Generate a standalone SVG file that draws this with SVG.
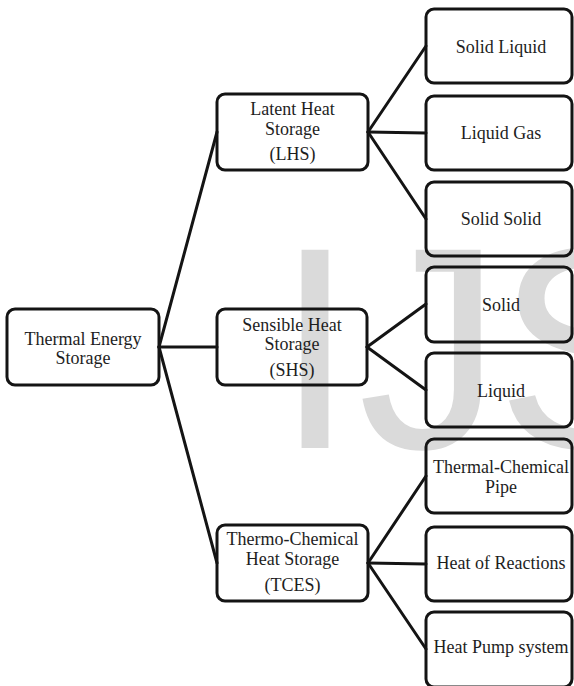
<svg xmlns="http://www.w3.org/2000/svg" width="574" height="686" viewBox="0 0 574 686">
  <style>
    .box { fill: none; stroke: #141414; stroke-width: 3; }
    .t { font-family: "Liberation Serif", "Times New Roman", serif; font-size: 18px; fill: #1e1e1e; text-anchor: middle; }
    .edge { stroke: #141414; stroke-width: 3; fill: none; stroke-linecap: round; }
    .wm { font-family: "Liberation Sans", Arial, sans-serif; font-size: 288px; fill: #dadada; }
  </style>
  <rect width="574" height="686" fill="#ffffff"/>
  <text class="wm" y="448"><tspan x="275">I</tspan><tspan x="358">J</tspan><tspan x="496">S</tspan></text>

  <g id="connectors">
    <line class="edge" x1="159" y1="347" x2="217" y2="132"/>
    <line class="edge" x1="159" y1="347" x2="217" y2="347"/>
    <line class="edge" x1="159" y1="347" x2="217" y2="563"/>
    <line class="edge" x1="368" y1="132" x2="426" y2="46"/>
    <line class="edge" x1="368" y1="132" x2="426" y2="133"/>
    <line class="edge" x1="368" y1="132" x2="426" y2="219"/>
    <line class="edge" x1="367" y1="347" x2="426" y2="304"/>
    <line class="edge" x1="367" y1="347" x2="426" y2="390"/>
    <line class="edge" x1="368" y1="563" x2="426" y2="476"/>
    <line class="edge" x1="368" y1="563" x2="426" y2="564"/>
    <line class="edge" x1="368" y1="563" x2="426" y2="649"/>
  </g>

  <g id="tes">
    <rect class="box" x="7" y="309" width="152" height="76" rx="8"/>
    <text class="t" x="83" y="345">Thermal Energy</text>
    <text class="t" x="83" y="364">Storage</text>
  </g>

  <g id="lhs">
    <rect class="box" x="217" y="94" width="151" height="76" rx="8"/>
    <text class="t" x="292.5" y="115">Latent Heat</text>
    <text class="t" x="292.5" y="135">Storage</text>
    <text class="t" x="292.5" y="160">(LHS)</text>
  </g>

  <g id="shs">
    <rect class="box" x="217" y="309" width="150" height="76" rx="8"/>
    <text class="t" x="292" y="331">Sensible Heat</text>
    <text class="t" x="292" y="350">Storage</text>
    <text class="t" x="292" y="376">(SHS)</text>
  </g>

  <g id="tces">
    <rect class="box" x="217" y="525" width="151" height="76" rx="8"/>
    <text class="t" x="292.5" y="545">Thermo-Chemical</text>
    <text class="t" x="292.5" y="565">Heat Storage</text>
    <text class="t" x="292.5" y="591">(TCES)</text>
  </g>

  <g id="solid-liquid">
    <rect class="box" x="426" y="9" width="146" height="74" rx="8"/>
    <text class="t" x="501" y="53">Solid Liquid</text>
  </g>
  <g id="liquid-gas">
    <rect class="box" x="426" y="96" width="146" height="74" rx="8"/>
    <text class="t" x="501" y="139">Liquid Gas</text>
  </g>
  <g id="solid-solid">
    <rect class="box" x="426" y="182" width="146" height="74" rx="8"/>
    <text class="t" x="501" y="225">Solid Solid</text>
  </g>
  <g id="solid">
    <rect class="box" x="426" y="267" width="146" height="75" rx="8"/>
    <text class="t" x="501" y="311">Solid</text>
  </g>
  <g id="liquid">
    <rect class="box" x="426" y="353" width="146" height="74" rx="8"/>
    <text class="t" x="501" y="397">Liquid</text>
  </g>
  <g id="thermal-chemical-pipe">
    <rect class="box" x="426" y="439" width="146" height="74" rx="8"/>
    <text class="t" x="501" y="473">Thermal-Chemical</text>
    <text class="t" x="501" y="493">Pipe</text>
  </g>
  <g id="heat-of-reactions">
    <rect class="box" x="426" y="527" width="146" height="74" rx="8"/>
    <text class="t" x="501" y="569">Heat of Reactions</text>
  </g>
  <g id="heat-pump-system">
    <rect class="box" x="426" y="612" width="146" height="75" rx="8"/>
    <text class="t" x="501" y="653">Heat Pump system</text>
  </g>
</svg>
